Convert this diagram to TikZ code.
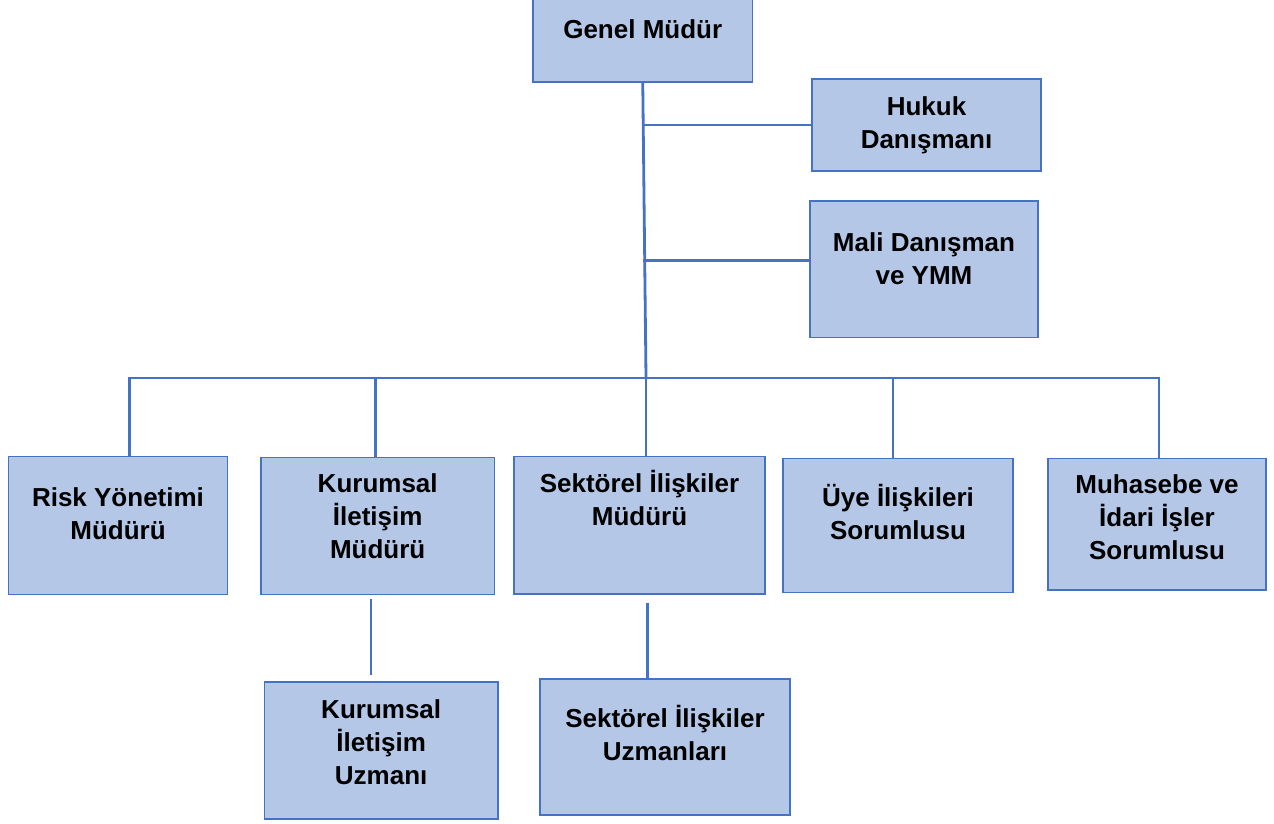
\documentclass[tikz,border=0pt]{standalone}
\usepackage{fontspec}
\setmainfont{Liberation Sans}
\usepackage{tikz}
\usetikzlibrary{calc}
\definecolor{unitfill}{HTML}{B4C7E7}
\definecolor{unitline}{HTML}{4472C4}
\newcommand\textpad[1]{\rule[-#1pt]{0pt}{#1pt}} % extra depth under the last line, lifts the text
\tikzset{
  chart/.style={
	x=1pt, y=-1pt, % one unit is one pixel of the chart, y grows downwards
	line join=miter,
  },
  unit/.style={draw=unitline, fill=unitfill, line width=1.5pt, inner sep=0pt,
	align=center, font=\fontsize{26}{33}\selectfont\bfseries}, % every box
  link/.style={draw=unitline, line width=2.8pt}, % every connector
}

\begin{document}
\begin{tikzpicture}[chart]
\useasboundingbox (0,0) rectangle (1274,823);

% top of the chart
\node[unit, minimum width=219.5pt, minimum height=84pt] (genel) at (642.75,40) {Genel Müdür\textpad{22.4}};
\node[unit, minimum width=229pt, minimum height=92pt] (hukuk) at (926.5,125) {Hukuk\\Danışmanı\textpad{5.6}};
\node[unit, minimum width=228pt, minimum height=136.7pt] (mali) at (924,269.3) {Mali Danışman\\ve YMM\textpad{22.2}};

% second row
\node[unit, minimum width=219pt, minimum height=137.6pt] (risk) at (118,525.5) {Risk Yönetimi\\Müdürü\textpad{23.6}};
\node[unit, minimum width=233.3pt, minimum height=137pt] (kurumsal) at (377.7,525.8) {Kurumsal\\İletişim\\Müdürü\textpad{18.8}};
\node[unit, minimum width=251pt, minimum height=137.3pt] (sektorel) at (639.5,525.3) {Sektörel İlişkiler\\Müdürü\textpad{54.5}};
\node[unit, minimum width=230pt, minimum height=134pt] (uye) at (898,525.3) {Üye İlişkileri\\Sorumlusu\textpad{27.7}};
\node[unit, minimum width=218pt, minimum height=131.7pt] (muhasebe) at (1157,524.2) {Muhasebe ve\\İdari İşler\\Sorumlusu\textpad{14.3}};

% third row
\node[unit, minimum width=233.6pt, minimum height=137.3pt] (kuzman) at (381.2,750.4) {Kurumsal\\İletişim\\Uzmanı\textpad{16.7}};
\node[unit, minimum width=250pt, minimum height=136pt] (suzman) at (665,747) {Sektörel İlişkiler\\Uzmanları\textpad{27.9}};

% points on the bus
\coordinate (d1) at (129.5,378);
\coordinate (d2) at (375.7,378);
\coordinate (hub) at (646,378);
\coordinate (d4) at (893,378);
\coordinate (d5) at (1159,378);

\draw[link] (genel.south) -- (hub);
\draw[link] (hukuk.west -| genel.south) -- (hukuk.west);
\draw[link] ([yshift=8.6pt]mali.west -| genel.south) -- ([yshift=8.6pt]mali.west);
\draw[link] (d1 |- risk.north) -- (d1) -- (d5) -- (d5 |- muhasebe.north);
\draw[link] (d2) -- (d2 |- kurumsal.north);
\draw[link] (hub) -- (hub |- sektorel.north);
\draw[link] (d4) -- (d4 |- uye.north);
\draw[link, shorten <=4pt, shorten >=5.7pt] ([xshift=-6.7pt]kurumsal.south) -- ([xshift=-6.7pt]kurumsal.south |- kuzman.north);
\draw[link, shorten <=8.3pt] ([xshift=8.1pt]sektorel.south) -- ([xshift=8.1pt]sektorel.south |- suzman.north);
\end{tikzpicture}
\end{document}
